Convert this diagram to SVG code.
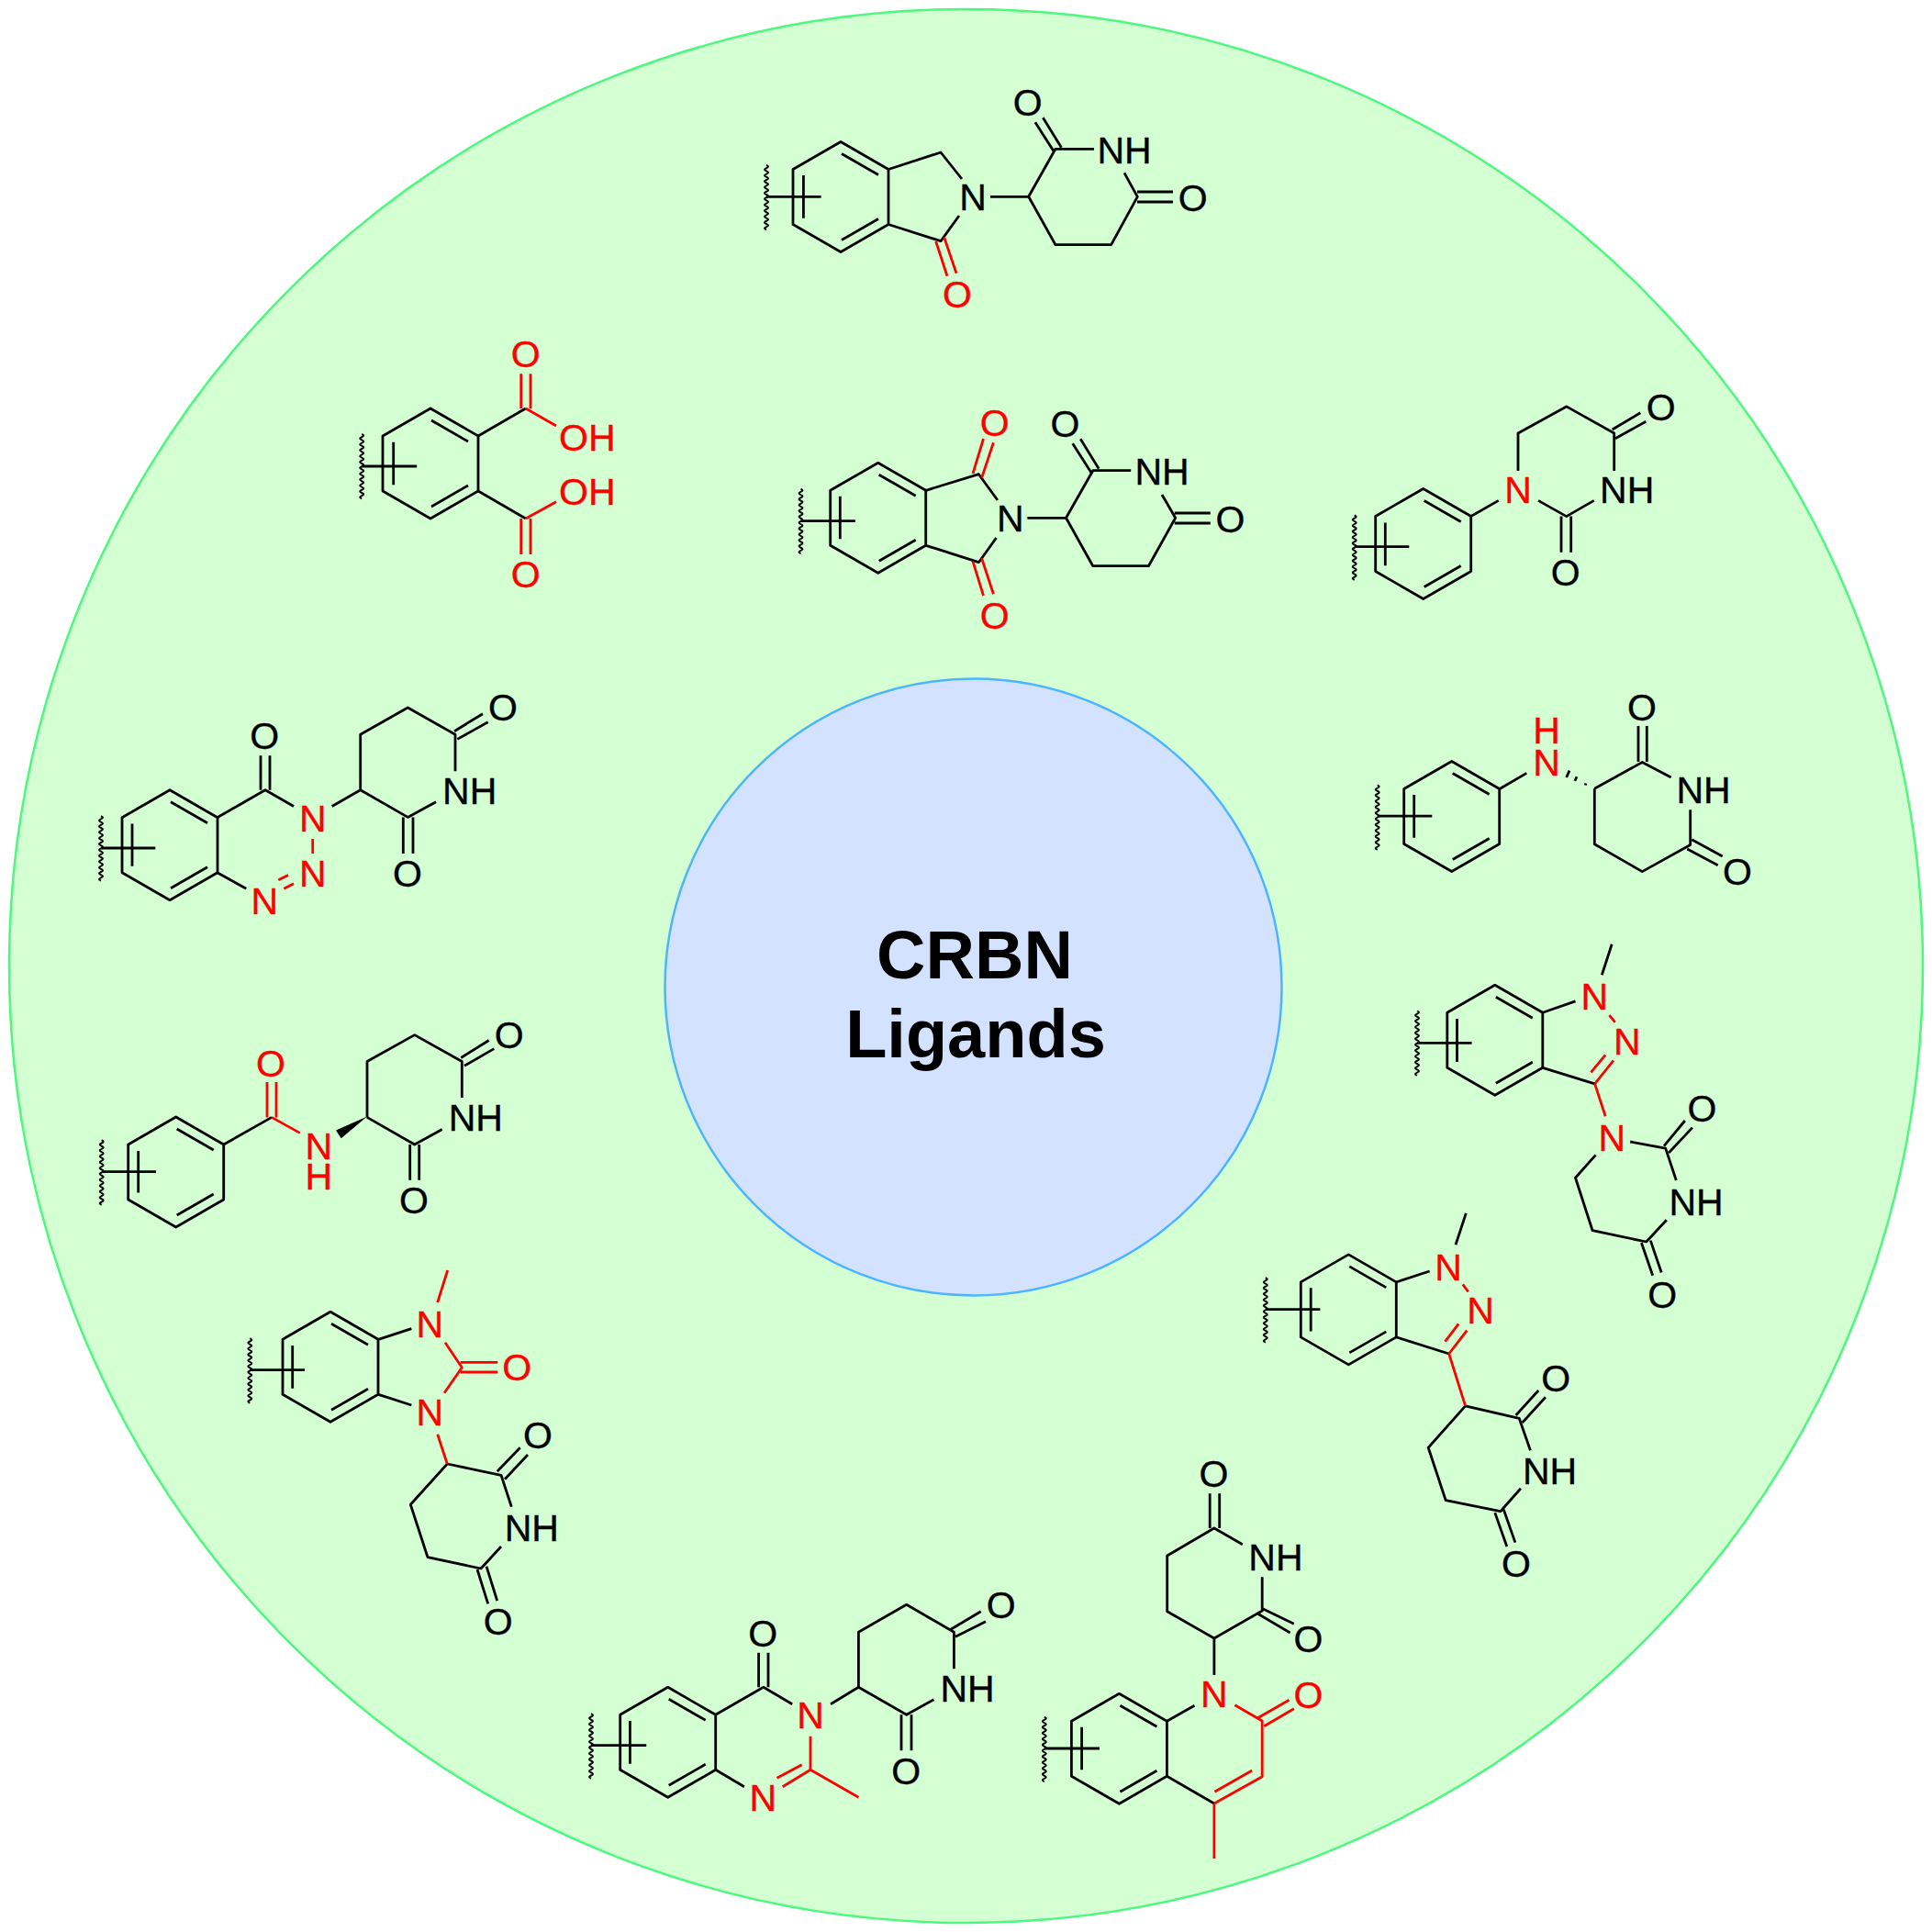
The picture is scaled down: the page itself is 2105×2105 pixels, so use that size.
<svg xmlns="http://www.w3.org/2000/svg" xmlns:xlink="http://www.w3.org/1999/xlink" width="2105" height="2105" viewBox="0 0 2105 2105">
<style>
.b{fill:none;stroke:#000;stroke-width:2.8;stroke-linejoin:round;stroke-linecap:butt}
.r{fill:none;stroke:#f00;stroke-width:2.8;stroke-linejoin:round;stroke-linecap:butt}
.w{fill:none;stroke:#000;stroke-width:2}
text{font-family:"Liberation Sans",Arial,sans-serif;font-size:41px;text-anchor:middle;fill:#000;stroke:#000;stroke-width:.35}
text.e{fill:#f00;stroke:#f00}
text.title{font-size:74px;font-weight:bold;stroke:none}
</style>
<defs>
<g id="benz" class="b">
<path class="b" d="M0,-60L52,-30V30L0,60L-52,30V-30Z"/>
<path class="b" d="M1,-47L41,-24M1,47L41,24"/>
</g>
<path id="wavy" class="w" d="M0,0q4,1.6 0,3.2q-4,1.6 0,3.2q4,1.6 0,3.2q-4,1.6 0,3.2q4,1.6 0,3.2q-4,1.6 0,3.2q4,1.6 0,3.2q-4,1.6 0,3.2q4,1.6 0,3.2q-4,1.6 0,3.2q4,1.6 0,3.2q-4,1.6 0,3.2q4,1.6 0,3.2q-4,1.6 0,3.2q4,1.6 0,3.2q-4,1.6 0,3.2q4,1.6 0,3.2q-4,1.6 0,3.2q4,1.6 0,3.2q-4,1.6 0,3.2q4,1.6 0,3.2q-4,1.6 0,3.2"/>
</defs>
<g id="outer-circle"><circle cx="1052.5" cy="1052.5" r="1042.5" fill="#d3ffd3" stroke="#4df87f" stroke-width="2.5"/></g>
<g id="center-node">
<circle cx="1060.5" cy="1075.5" r="336" fill="#d3e3ff" stroke="#4db5ff" stroke-width="2.5"/>
<text class="title" x="1062" y="1066">CRBN</text>
<text class="title" x="1063" y="1152.3">Ligands</text>
</g>

<g id="ligand-isoindolinone">
<use href="#benz" x="916" y="214.5"/><use href="#wavy" x="835" y="180"/>
<path class="b" d="M835,214.3H894.6M875.4,191V237.7M968,184.5L1025,166L1048,195M968,244.5L1025,262.7L1045,235M1079,214.3H1120.7L1150,162.3H1192M1225,188.3L1239.3,214.3L1210.7,266.7H1150L1120.7,214.3M1127.9,133.3L1148.2,165M1136.4,128.3L1156.4,160.7M1239,209H1278M1239,220H1278"/>
<path class="r" d="M1019.6,262.7L1032,300.7M1028.6,258.3L1042,297.7"/>
<text x="1060" y="229">N</text><text x="1225" y="178">NH</text><text x="1119.6" y="125.5">O</text><text x="1299.6" y="229.5">O</text><text class="e" x="1043" y="335">O</text>
</g>

<g id="ligand-phthalic-acid">
<use href="#benz" x="469" y="505"/><use href="#wavy" x="394.2" y="473"/>
<path class="b" d="M394.2,508H454.2M428.7,481.7V528.3M521,475L572.8,445M521,535L572.8,565"/>
<path class="r" d="M572.8,445L606,464M572.8,565L606,546.7M567.7,407.3V445M578,407.3V445M567.7,565V604M578,565V604"/>
<text class="e" x="572.8" y="400">O</text><text class="e" x="639.8" y="490.5">OH</text><text class="e" x="639.8" y="550">OH</text><text class="e" x="572.8" y="640">O</text>
</g>

<g id="ligand-phthalimide">
<use href="#benz" x="956.7" y="564.3"/><use href="#wavy" x="872.5" y="532.7"/>
<path class="b" d="M872.5,567.7H931.9M915.3,540.7V587.3M1009,534.3L1066.4,516.7L1086.9,545M1009,594.3L1066.4,612.7L1085.5,586M1119.4,564.3H1161.5L1190.8,512.7H1232.2M1266,539L1280.7,564.3L1251.4,616.7H1190.8L1161.5,564.3M1168.7,483.3L1189,515M1177.2,478.3L1197.2,510.7M1279.8,559H1318.8M1279.8,570H1318.8"/>
<path class="r" d="M1060,516L1071.5,478M1069.6,520.7L1082.4,482.3M1060,611.7L1071.5,649M1069.6,608.3L1082.4,647.3"/>
<text x="1100.9" y="579">N</text><text x="1266" y="527.5">NH</text><text x="1160.4" y="475.5">O</text><text x="1340.4" y="579.5">O</text><text class="e" x="1083.7" y="474.5">O</text><text class="e" x="1083.7" y="685">O</text>
</g>

<g id="ligand-dihydrouracil">
<use href="#benz" x="1550.7" y="592.5"/><use href="#wavy" x="1475.7" y="561.5"/>
<path class="b" d="M1475.7,595.6H1535.3M1509.3,569.5V616.2M1602.7,562.5L1632.7,545.4M1654,512.9V472L1706.7,442.9L1758.7,472V512.9M1736.7,545.4L1706.7,562.6L1676,545.4M1701,562.6V601.7M1711.7,562.6V601.7M1756.7,468L1787.3,449.8M1760,477.7L1793.3,459.3"/>
<text class="e" x="1654" y="548.3">N</text><text x="1772.7" y="548.3">NH</text><text x="1705.7" y="638">O</text><text x="1809.7" y="458">O</text>
</g>

<g id="ligand-aminoglutarimide">
<use href="#benz" x="1581.7" y="889.5"/><use href="#wavy" x="1500.7" y="855.4"/>
<path class="b" d="M1500.7,889.1H1560.3M1540.7,866.1V912.8M1634,859.5L1663.3,842.4M1737.3,859.2L1789.3,830.5L1820.7,847M1841.7,882.2V920.5L1789.3,949.6L1737.3,919.7V859.2M1785,791.1V830M1794.3,791.1V830M1843.3,914.7L1876.7,933M1838.3,925L1871.7,942.7"/>
<path class="b" d="M1727.2,855.4L1728,853.4M1716,850.8L1718,846.2M1706.7,847L1710,839.6"/>
<text class="e" x="1685" y="810">H</text><text class="e" x="1685" y="845">N</text><text x="1856" y="875.3">NH</text><text x="1789" y="785">O</text><text x="1893" y="964.3">O</text>
</g>

<g id="ligand-benzotriazinone">
<use href="#benz" x="185" y="920.7"/><use href="#wavy" x="110" y="889.2"/>
<path class="b" d="M110,924H169.3M144,897.5V943.8M236.7,890.7L289,860.7L320,878.5M236.7,950.7L268.3,968.3M361.7,878.5L392.7,860.7V800.2L444.3,771L496,800.2V840.2M475,873.8L444.3,890.4L392.7,860.7M284,823.2V860.7M294,823.2V860.7M495,796.7L526,777.7M498.3,805.4L531.7,786.8M439.3,890.4V930M450,890.4V930"/>
<path class="r" d="M340.7,914V930M303.3,958.8L314,953.6M309.3,968.3L320,962.7"/>
<text x="288.3" y="815.7">O</text><text class="e" x="340.7" y="906">N</text><text class="e" x="340.7" y="966">N</text><text class="e" x="288.3" y="995.6">N</text><text x="511.7" y="876.3">NH</text><text x="548" y="785.3">O</text><text x="444" y="966">O</text>
</g>

<g id="ligand-benzamide">
<use href="#benz" x="191.7" y="1277"/><use href="#wavy" x="110.7" y="1242.3"/>
<path class="b" d="M110.7,1276.7H170M150.7,1254V1299.6M243.7,1247L296,1217.4M400,1217.4V1156.5L451.7,1127.6L503.3,1156.5V1196M481.7,1230.4L451.7,1247L400,1217.4M502.3,1152.5L532.7,1133.5M506,1161.2L538.3,1142.6M446.7,1247V1285.8M456.7,1247V1285.8"/>
<path d="M400,1216.5L366,1231.6L371.7,1240.3Z" fill="#000"/>
<path class="r" d="M296,1217.4L326.7,1234.4M291,1179V1217.4M301,1179V1217.4"/>
<text class="e" x="295" y="1172.8">O</text><text class="e" x="347.3" y="1262.5">N</text><text class="e" x="347.3" y="1296">H</text><text x="518.3" y="1232">NH</text><text x="554.7" y="1142">O</text><text x="451" y="1321.8">O</text>
</g>

<g id="ligand-benzimidazolone">
<use href="#benz" x="360" y="1489.3"/><use href="#wavy" x="272.3" y="1458.3"/>
<path class="b" d="M272.3,1492.7H332M318.7,1466V1512.7M412.3,1459.3L448.3,1447.7M412.3,1519.3L448.3,1531M487.3,1595L546,1607.3L557.3,1641.7M546,1685L524,1709L466,1696.7L447.3,1639.3L487.3,1595M541.7,1603.3L566.7,1577.3M550,1611.7L575,1585M520,1710L531.7,1747.3M530,1706.7L541.7,1744"/>
<path class="r" d="M476.7,1419L487.7,1384M485,1462.7L503.3,1490L484,1517.7M501.7,1484.3H542.3M501.7,1495H542.3M476.7,1562.7L487.3,1595"/>
<text class="e" x="468.3" y="1456.6">N</text><text class="e" x="468.3" y="1553.3">N</text><text class="e" x="563.3" y="1504.3">O</text><text x="579.3" y="1679.3">NH</text><text x="586" y="1577.6">O</text><text x="542.7" y="1781">O</text>
</g>

<g id="ligand-quinazolinone">
<use href="#benz" x="727.7" y="1898.3"/><use href="#wavy" x="644" y="1867.3"/>
<path class="b" d="M644,1901.7H704.2M686.4,1875V1921.7M779.7,1868.3L831.8,1838.3L863.2,1856.7M905,1856.7L935.4,1838.3V1778.3L987.7,1748.3L1039.4,1778.3V1818.3M1017.5,1851.7L987.7,1868.3L935.4,1838.3M826.6,1800.7V1838.3M837,1800.7V1838.3M1034.7,1776L1068.7,1755.7M1041,1783.3L1074,1766.7M982,1868.3V1907.3M993,1868.3V1907.3M779.7,1928.3L810.9,1946.7"/>
<path class="r" d="M883,1891.7V1928.3L935.4,1958.3M883,1928.3L852.7,1946.7M846.5,1937.3L873.7,1922.7"/>
<text class="e" x="883" y="1883.3">N</text><text class="e" x="831.3" y="1973.3">N</text><text x="831.3" y="1793.6">O</text><text x="1054" y="1853.6">NH</text><text x="1090.7" y="1763.3">O</text><text x="987.1" y="1943.6">O</text>
</g>

<g id="ligand-quinolinone">
<use href="#benz" x="1219.4" y="1905.3"/><use href="#wavy" x="1137.8" y="1870.7"/>
<path class="b" d="M1137.8,1905H1198M1178.6,1881.7V1928.3M1271.4,1875.3L1301.5,1858.3M1322.9,1825V1785L1271.7,1755.7V1695L1322.9,1665L1353.8,1682.7M1375.2,1718.3V1755L1322.9,1785M1318.2,1627.3V1665M1328.7,1627.3V1665M1370.5,1758.3L1405.6,1779M1375.7,1752.7L1409.8,1769.3M1271.4,1935.3L1322.9,1965"/>
<path class="r" d="M1345.4,1857.7L1375.2,1875V1935.7L1322.9,1965M1364.2,1929L1323.4,1952.3M1370.5,1871.7L1404.5,1852.3M1377.3,1880.7L1409.8,1861.7M1322.9,1965V2025"/>
<text class="e" x="1322.9" y="1860.3">N</text><text class="e" x="1425.4" y="1861">O</text><text x="1389.9" y="1711">NH</text><text x="1322.4" y="1620">O</text><text x="1425.4" y="1800.3">O</text>
</g>

<g id="ligand-indazole-dihydrouracil">
<use href="#benz" x="1628.8" y="1133.3"/><use href="#wavy" x="1544" y="1101.4"/>
<path class="b" d="M1544,1136.3H1603.6M1587.5,1110V1157M1680.8,1103.3L1716.5,1090.9M1680.8,1163.3L1737.6,1180.9M1745.3,1062.2L1756.2,1028.7M1776.2,1244L1814.7,1251.1L1826.3,1286M1815.8,1329.2L1793.7,1353L1735.1,1340.7L1716.5,1283.2L1738.6,1258.4M1813,1248.7L1835.8,1221M1818.2,1256L1843.9,1228.6M1788.4,1354L1800.7,1389.8M1798.3,1351.6L1810.2,1386.5"/>
<path class="r" d="M1753.4,1106.2L1759.7,1113.8M1737.6,1180.9L1757.9,1155.5M1733.4,1168.4L1749.2,1149.3M1737.6,1180.9L1749.2,1216.2"/>
<text class="e" x="1737.2" y="1100.4">N</text><text class="e" x="1772.7" y="1149.2">N</text><text class="e" x="1756.2" y="1253.5">N</text><text x="1848" y="1323.8">NH</text><text x="1854.4" y="1221.5">O</text><text x="1811.2" y="1424.7">O</text>
</g>

<g id="ligand-indazole-glutarimide">
<use href="#benz" x="1469.3" y="1426.9"/><use href="#wavy" x="1378.8" y="1392.2"/>
<path class="b" d="M1378.8,1426.7H1438.4M1428.2,1403.2V1450.6M1521.3,1396.9L1557.6,1385M1521.3,1456.9L1578.7,1475M1586,1356.3L1597.3,1321.9M1596.6,1531.9L1655.2,1545.3L1667.4,1580.2M1656.9,1621.8L1634.8,1646.7L1575.2,1634.7L1556.2,1577.3L1596.6,1531.9M1651.6,1542L1676.2,1515M1658.7,1550L1683.9,1522.3M1628.8,1648.1L1641.8,1685M1638.3,1644.8L1650.9,1680.6"/>
<path class="r" d="M1593.8,1399.4L1599.7,1407.5M1578.7,1475L1598.3,1449.6M1574.5,1461.6L1589.2,1442.4M1578.7,1475L1596.6,1531.9"/>
<text class="e" x="1578" y="1394.6">N</text><text class="e" x="1613" y="1442.4">N</text><text x="1688.5" y="1617">NH</text><text x="1695.1" y="1515.6">O</text><text x="1652" y="1718.3">O</text>
</g>
<g id="connectors"/>
</svg>
